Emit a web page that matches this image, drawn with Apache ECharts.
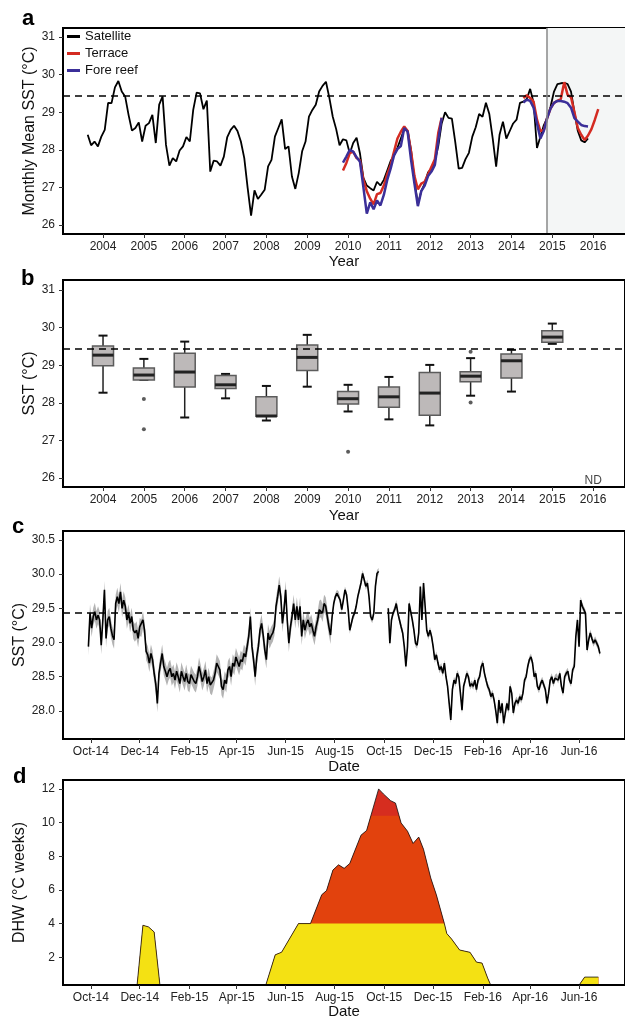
<!DOCTYPE html>
<html>
<head>
<meta charset="UTF-8">
<title>SST and DHW</title>
<script src="https://cdn.jsdelivr.net/npm/echarts@6/dist/echarts.min.js"></script>
<style>html,body{margin:0;padding:0;background:#fff}</style>
</head>
<body>
<div id="main" style="width:625px;height:1020px"></div>
<script>
// ---- panel a : monthly means (first value = Aug 2003) ----
var satStart = 2003 + 7 / 12;
var satellite = [28.40, 28.12, 28.22, 28.09, 28.35, 28.53, 29.25, 29.24, 29.66, 29.83, 29.55, 29.42,
    28.93, 28.51, 28.58, 28.73, 28.22, 28.64, 28.71, 28.93, 28.18, 29.20, 29.42, 28.13,
    27.58, 27.78, 27.69, 27.98, 28.09, 28.34, 28.22, 29.06, 29.52, 29.50, 29.08, 29.31,
    27.42, 27.71, 27.69, 27.58, 27.82, 28.34, 28.53, 28.64, 28.50, 28.22, 27.78, 26.98,
    26.25, 26.92, 26.69, 26.81, 26.94, 27.56, 27.73, 28.35, 28.58, 28.81, 28.02, 28.09,
    27.29, 26.96, 27.38, 27.96, 28.22, 28.88, 29.06, 29.20, 29.55, 29.70, 29.81, 29.38,
    28.88, 28.55, 28.12, 28.28, 28.25, 27.90, 28.18, 28.32, 27.90, 27.25, 27.05, 26.98,
    26.92, 27.15, 27.05, 27.20, 27.45, 27.70, 27.85, 28.05, 28.30, 28.55, 28.50, 28.00,
    27.20, 26.55, 26.90, 27.10, 27.40, 27.50, 27.70, 28.10, 28.70, 29.00, 28.85, 28.83,
    28.20, 27.50, 27.52, 27.75, 27.92, 28.35, 28.60, 28.95, 28.88, 29.25, 28.95, 28.30,
    27.55, 28.40, 28.75, 28.30, 28.50, 28.70, 28.80, 29.25, 29.28, 29.35, 29.62, 29.25,
    28.05, 28.35, 28.65, 28.85, 29.15, 29.55, 29.75, 29.77, 29.78, 29.75, 29.55, 29.00,
    28.50, 28.25, 28.20, 28.30];
// logger series start Nov 2009
var siteStart = 2009 + 10 / 12;
var terrace = [27.45, 27.65, 27.91, 27.95, 27.78, 27.72, 27.20, 26.90, 26.70, 26.55, 26.82, 26.85,
    27.05, 27.35, 27.60, 27.95, 28.30, 28.48, 28.62, 28.50, 27.95, 27.30, 26.95, 27.10,
    27.15, 27.35, 27.55, 27.75, 28.45, 28.85,
    null, null, null, null, null, null, null, null, null, null, null, null,
    null, null, null, null, null, null, null, null, null, null, null,
    29.38, 29.45, 29.38, 29.28, 28.80, 28.50, 28.52, 28.85, 29.10, 29.25, 29.30, 29.35,
    29.80, 29.46, 29.40, 29.00, 28.58, 28.40, 28.26, 28.38, 28.55, 28.80, 29.08];
var foreReef = [27.66, 27.82, 28.00, 27.95, 27.80, 27.68, 27.00, 26.30, 26.60, 26.42, 26.65, 26.52,
    26.80, 27.20, 27.50, 27.85, 28.02, 28.10, 28.58, 28.48, 27.73, 27.10, 26.50, 26.90,
    27.05, 27.30, 27.42, 27.60, 28.25, 28.85,
    null, null, null, null, null, null, null, null, null, null, null, null,
    null, null, null, null, null, null, null, null, null, null, null,
    29.26, 29.33, 29.30, 29.12, 28.70, 28.30, 28.50, 28.85, 29.10, 29.25, 29.30, 29.30,
    29.28, 29.24, 29.12, 28.84, 28.75, 28.66, 28.63, 28.62];
var bleachThreshold = 29.43;
var loggerStart = 2014.86;
var yearTicks = [2004, 2005, 2006, 2007, 2008, 2009, 2010, 2011, 2012, 2013, 2014, 2015, 2016];

// ---- panel b : yearly box plots ----
var boxYears  = [2004, 2005, 2006, 2007, 2008, 2009, 2010, 2011, 2012, 2013, 2014, 2015];
var boxMin    = [28.27, 28.61, 27.61, 28.12, 27.53, 28.43, 27.77, 27.56, 27.40, 28.19, 28.30, 29.57];
var boxQ1     = [28.99, 28.61, 28.42, 28.38, 27.64, 28.86, 27.97, 27.88, 27.67, 28.56, 28.66, 29.61];
var boxMedian = [29.27, 28.74, 28.82, 28.48, 27.65, 29.21, 28.11, 28.16, 28.26, 28.71, 29.12, 29.75];
var boxQ3     = [29.51, 28.93, 29.32, 28.73, 28.16, 29.54, 28.30, 28.42, 28.81, 28.83, 29.30, 29.92];
var boxMax    = [29.79, 29.17, 29.63, 28.77, 28.45, 29.81, 28.48, 28.69, 29.01, 29.19, 29.41, 30.11];
var outlierYears  = [2005, 2005, 2010, 2013, 2013];
var outlierValues = [28.10, 27.30, 26.70, 29.36, 28.01];
var noDataYear = 2016;

// ---- panel c : logger SST, every 2 days, days counted from 1 Oct 2014 ----
var dailyStartDay = -3;
var dailyStep = 2;
var dailySST = [
    28.94, 29.43, 29.21, 29.38, 29.45, 29.33, 29.40, 29.33, 28.96, 29.33,
    29.77, 29.06, 29.33, 29.38, 29.21, 29.10, 29.04, 29.57, 29.67, 29.57,
    29.74, 29.50, 29.62, 29.53, 29.33, 29.43, 29.28, 29.38, 29.18, 29.14,
    29.18, 29.06, 29.23, 29.21, 29.33, 29.18, 28.87, 28.82, 28.70, 28.84,
    28.75, 28.55, 28.40, 28.11, 28.55, 28.70, 28.84, 28.65, 28.58, 28.50,
    28.58, 28.62, 28.50, 28.55, 28.45, 28.58, 28.50, 28.40, 28.58, 28.50,
    28.43, 28.55, 28.43, 28.40, 28.53, 28.48, 28.43, 28.40, 28.50, 28.65,
    28.55, 28.43, 28.50, 28.60, 28.40, 28.50, 28.38, 28.36, 28.45, 28.55,
    28.70, 28.65, 28.60, 28.36, 28.31, 28.45, 28.40, 28.60, 28.65, 28.50,
    28.70, 28.65, 28.79, 28.72, 28.65, 28.75, 28.72, 28.84, 28.79, 28.94,
    29.09, 29.38, 28.94, 28.75, 28.50, 28.79, 28.94, 29.18, 29.28, 29.11,
    28.89, 28.75, 29.14, 29.04, 29.10, 29.14, 29.23, 29.53, 29.67, 29.84,
    29.67, 29.28, 29.48, 29.77, 29.33, 28.99, 29.23, 29.38, 29.57, 29.33,
    29.53,
    29.33, 29.53, 29.09, 29.33, 29.18, 29.28, 29.33, 29.23, 29.28, 29.18,
    29.09, 29.23, 29.33, 29.48, 29.50, 29.43, 29.57, 29.53, 29.38, 29.23,
    29.11, 29.38, 29.57, 29.67, 29.72, 29.70, 29.62, 29.48, 29.62, 29.77,
    29.70, 29.48, 29.18, 29.28, 29.38, 29.43, 29.53, 29.67, 29.77, 29.87,
    30.01, 29.92, 29.82, 29.87, 29.67, 29.38, 29.33, 29.43, 29.82, 30.01,
    30.04,
    null, null, null, null, null,
    29.50, 28.99, 29.33, 29.43, 29.48, 29.57, 29.43, 29.33, 29.23, 29.14,
    28.94, 28.65, 28.94, 29.57, 29.45, 29.33, 29.18, 28.99, 28.96, 29.14,
    29.82, 29.33, 29.87, 29.53, 29.18, 29.09, 29.18, 29.09, 28.94, 28.75,
    28.82, 28.70, 28.60, 28.65, 28.55, 28.70, 28.50, 28.36, 28.11, 27.87,
    28.31, 28.45, 28.40, 28.55, 28.50, 28.26, 28.01, 28.36, 28.45, 28.55,
    28.50, 28.36, 28.40, 28.36, 28.45, 28.31, 28.45, 28.50, 28.65, 28.70,
    28.55, 28.45, 28.36, 28.31, 28.21, 28.26, 28.16, 28.01, 27.82, 28.16,
    27.97, 28.11, 27.82, 27.97, 28.11, 28.01, 28.36, 28.26, 27.97, 28.11,
    28.16, 28.11, 28.21, 28.16, 28.26, 28.45, 28.50, 28.65, 28.75, 28.79,
    28.70, 28.50, 28.55, 28.36, 28.31, 28.40, 28.45, 28.38, 28.31, 28.11,
    28.26, 28.45, 28.50, 28.40, 28.48, 28.50, 28.45, 28.55, 28.36, 28.26,
    28.50, 28.55, 28.58, 28.45, 28.40, 28.60, 28.65, 29.09, 29.33, 28.94,
    29.62, 29.53, 29.48, 29.43, 28.89, 29.04, 29.14, 29.06, 28.99, 29.04,
    28.99, 28.94, 28.84];
// half width of the grey error band (first / second part of the record)
var bandHalfEarly = 0.13;
var bandHalfLate = 0.05;
var bandSwitchDay = 300;
var dateTicks = [0, 61, 123, 182, 243, 304, 366, 427, 489, 548, 609];
var dateLabels = ['Oct-14', 'Dec-14', 'Feb-15', 'Apr-15', 'Jun-15', 'Aug-15', 'Oct-15', 'Dec-15', 'Feb-16', 'Apr-16', 'Jun-16'];

// ---- panel d : degree heating weeks ----
var dhwDays = [-3, 57, 65, 72, 79, 87, 216, 230, 238, 259, 274, 283, 288, 294, 302, 309, 316, 323,
    337, 344, 359, 365, 374, 380, 387, 395, 402, 409, 415, 424, 431, 441, 444, 450, 460, 473,
    481, 488, 495, 502, 604, 616, 633];
var dhwValues = [0, 0, 3.9, 3.8, 3.5, 0, 0, 2.14, 2.3, 4.0, 4.0, 5.1, 5.71, 5.96, 7.18, 7.49, 7.28, 7.57,
    9.25, 9.53, 12.0, 11.7, 11.3, 11.16, 9.98, 9.49, 8.76, 9.14, 8.41, 6.71, 5.71, 4.0, 3.41, 3.08, 2.43, 2.29,
    1.71, 1.65, 0.76, 0, 0, 0.82, 0.82];
var dhwAlert1 = 4;
var dhwAlert2 = 10.4;

// ---------------------------------------------------------------
var FONT = 'Liberation Sans';
var DHW_AXIS_MIN = 0.35;
var myChart = echarts.init(document.getElementById('main'), null, {renderer: 'canvas'});

function monthly(start, list) {
    return list.map(function (v, i) { return [start + (i + 0.5) / 12, v]; });
}
function dayOf(i) { return dailyStartDay + i * dailyStep; }
function bandHalf(i) { return dayOf(i) < bandSwitchDay ? bandHalfEarly : bandHalfLate; }

var dailyData = dailySST.map(function (v, i) { return [dayOf(i), v]; });
// continuous pieces of the logger record (the band is drawn piece by piece)
var bandPieces = [];
(function () {
    var s = -1;
    for (var i = 0; i <= dailySST.length; i++) {
        var ok = i < dailySST.length && dailySST[i] != null;
        if (ok && s < 0) s = i;
        if (!ok && s >= 0) { bandPieces.push([s, i - 1]); s = -1; }
    }
})();
var bandData = bandPieces.map(function (p) { return [dayOf(p[0]), dailySST[p[0]]]; });

function renderBand(params, api) {
    var p = bandPieces[params.dataIndex];
    var pts = [], i;
    for (i = p[0]; i <= p[1]; i++) pts.push(api.coord([dayOf(i), dailySST[i] + bandHalf(i)]));
    for (i = p[1]; i >= p[0]; i--) pts.push(api.coord([dayOf(i), dailySST[i] - bandHalf(i)]));
    return {type: 'polygon', shape: {points: pts}, style: {fill: '#a0a0a0', opacity: 0.8}};
}

// DHW curve with the points where it crosses the colour levels added,
// so each colour band follows the same straight segments as the outline
function dhwCurve() {
    var cuts = [DHW_AXIS_MIN, dhwAlert1, dhwAlert2];
    var out = [[dhwDays[0], dhwValues[0]]];
    for (var i = 1; i < dhwDays.length; i++) {
        var x0 = dhwDays[i - 1], v0 = dhwValues[i - 1], x1 = dhwDays[i], v1 = dhwValues[i];
        var hits = [];
        cuts.forEach(function (c) {
            if ((v0 - c) * (v1 - c) < 0) hits.push(x0 + (c - v0) / (v1 - v0) * (x1 - x0));
        });
        hits.sort(function (a, b) { return a - b; });
        hits.forEach(function (x) { out.push([x, v0 + (x - x0) / (x1 - x0) * (v1 - v0)]); });
        out.push([x1, v1]);
    }
    return out;
}
var dhwLevels = [
    {top: Infinity, color: '#d62d1f'},
    {top: dhwAlert2, color: '#e2420d'},
    {top: dhwAlert1, color: '#f4e113'}
];
function renderDHW(params, api) {
    var curve = dhwCurve();
    var children = dhwLevels.map(function (lv) {
        var pts = curve.map(function (p) {
            return api.coord([p[0], Math.max(DHW_AXIS_MIN, Math.min(p[1], lv.top))]);
        });
        pts.push(api.coord([curve[curve.length - 1][0], DHW_AXIS_MIN]));
        pts.push(api.coord([curve[0][0], DHW_AXIS_MIN]));
        return {type: 'polygon', shape: {points: pts}, style: {fill: lv.color}};
    });
    children.push({
        type: 'polyline',
        shape: {points: curve.map(function (p) { return api.coord([p[0], Math.max(DHW_AXIS_MIN, p[1])]); })},
        style: {stroke: '#111', lineWidth: 0.8, fill: null}
    });
    return {type: 'group', children: children};
}

var boxData = boxYears.map(function (y, i) {
    return [y, boxMin[i], boxQ1[i], boxMedian[i], boxQ3[i], boxMax[i]];
});
var outlierData = outlierYears.map(function (y, i) { return [y, outlierValues[i]]; });

var thresholdLine = {
    silent: true, symbol: 'none', label: {show: false},
    lineStyle: {type: [7, 5], color: '#000', width: 1.5},
    data: [{yAxis: bleachThreshold}]
};

function xAxisYears(grid, nameGap) {
    return {
        type: 'value', gridIndex: grid, min: 2003.02, max: 2016.78, z: 10,
        name: 'Year', nameLocation: 'middle', nameGap: nameGap, nameMoveOverlap: false,
        nameTextStyle: {fontSize: 15, color: '#111'},
        axisLine: {onZero: false, lineStyle: {color: '#000', width: 2}},
        axisTick: {length: 4, lineStyle: {color: '#333'}, customValues: yearTicks},
        axisLabel: {fontSize: 12, color: '#222', margin: 7, customValues: yearTicks,
            formatter: function (v) { return String(v); }},
        splitLine: {show: false}
    };
}
function xAxisDates(grid, nameGap) {
    return {
        type: 'value', gridIndex: grid, min: -34.7, max: 666.3, z: 10,
        name: 'Date', nameLocation: 'middle', nameGap: nameGap, nameMoveOverlap: false,
        nameTextStyle: {fontSize: 15, color: '#111'},
        axisLine: {onZero: false, lineStyle: {color: '#000', width: 2}},
        axisTick: {length: 4, lineStyle: {color: '#333'}, customValues: dateTicks},
        axisLabel: {fontSize: 12, color: '#222', margin: 7, customValues: dateTicks,
            formatter: function (v) {
                var k = dateTicks.indexOf(Math.round(v));
                return k < 0 ? '' : dateLabels[k];
            }},
        splitLine: {show: false}
    };
}
function yAxisSST(grid, name, min, max, ticks, digits, nameGap) {
    return {
        type: 'value', gridIndex: grid, min: min, max: max, z: 10,
        name: name, nameLocation: 'middle', nameGap: nameGap, nameMoveOverlap: false,
        nameTextStyle: {fontSize: 16, color: '#111'},
        axisLine: {show: true, onZero: false, lineStyle: {color: '#000', width: 2}},
        axisTick: {show: true, length: 4, lineStyle: {color: '#333'}, customValues: ticks},
        axisLabel: {fontSize: 12, color: '#222', margin: 8, customValues: ticks,
            formatter: function (v) { return v.toFixed(digits); }},
        splitLine: {show: false}
    };
}

function renderBox(params, api) {
    var x = api.value(0);
    var lo = api.coord([x, api.value(1)]);
    var q1 = api.coord([x, api.value(2)]);
    var med = api.coord([x, api.value(3)]);
    var q3 = api.coord([x, api.value(4)]);
    var hi = api.coord([x, api.value(5)]);
    var half = 10.5, cap = 4.5;
    return {
        type: 'group',
        children: [
            {type: 'line', shape: {x1: hi[0], y1: hi[1], x2: q3[0], y2: q3[1]}, style: {stroke: '#222', lineWidth: 1.5}},
            {type: 'line', shape: {x1: lo[0], y1: lo[1], x2: q1[0], y2: q1[1]}, style: {stroke: '#222', lineWidth: 1.5}},
            {type: 'line', shape: {x1: hi[0] - cap, y1: hi[1], x2: hi[0] + cap, y2: hi[1]}, style: {stroke: '#111', lineWidth: 2}},
            {type: 'line', shape: {x1: lo[0] - cap, y1: lo[1], x2: lo[0] + cap, y2: lo[1]}, style: {stroke: '#111', lineWidth: 2}},
            {type: 'rect', shape: {x: q3[0] - half, y: q3[1], width: half * 2, height: q1[1] - q3[1]},
                style: {fill: '#bdb9b9', stroke: '#5c5c5c', lineWidth: 1.5}},
            {type: 'line', shape: {x1: med[0] - half, y1: med[1], x2: med[0] + half, y2: med[1]}, style: {stroke: '#222', lineWidth: 3}}
        ]
    };
}

var letterStyle = {fontSize: 22, fontWeight: 'bold', color: '#000', fontFamily: FONT};

var option = {
    animation: false,
    backgroundColor: '#fff',
    textStyle: {fontFamily: FONT},
    title: [
        {text: 'a', left: 22, top: 8, padding: 0, textStyle: letterStyle},
        {text: 'b', left: 21, top: 268, padding: 0, textStyle: letterStyle},
        {text: 'c', left: 12, top: 516, padding: 0, textStyle: letterStyle},
        {text: 'd', left: 13, top: 766, padding: 0, textStyle: letterStyle}
    ],
    legend: {
        left: 67, top: 30, padding: 0, orient: 'vertical', icon: 'rect',
        itemWidth: 13, itemHeight: 3, itemGap: 4,
        textStyle: {fontSize: 13, color: '#111'},
        data: ['Satellite', 'Terrace', 'Fore reef']
    },
    grid: [
        {left: 63, top: 28, right: -3, height: 206, show: true, borderColor: '#000', borderWidth: 2},
        {left: 63, top: 280, right: -3, height: 207, show: true, borderColor: '#000', borderWidth: 2},
        {left: 63, top: 531, right: -3, height: 208, show: true, borderColor: '#000', borderWidth: 2},
        {left: 63, top: 780, right: -3, height: 207, show: true, borderColor: '#000', borderWidth: 2}
    ],
    xAxis: [xAxisYears(0, 20), xAxisYears(1, 21), xAxisDates(2, 20), xAxisDates(3, 19)],
    yAxis: [
        yAxisSST(0, 'Monthly Mean SST (°C)', 25.76, 31.24, [26, 27, 28, 29, 30, 31], 0, 25),
        yAxisSST(1, 'SST (°C)', 25.76, 31.27, [26, 27, 28, 29, 30, 31], 0, 25),
        yAxisSST(2, 'SST (°C)', 27.59, 30.63, [28, 28.5, 29, 29.5, 30, 30.5], 1, 35),
        yAxisSST(3, 'DHW (°C weeks)', DHW_AXIS_MIN, 12.53, [2, 4, 6, 8, 10, 12], 0, 35)
    ],
    series: [
        {
            name: 'Satellite', type: 'line', xAxisIndex: 0, yAxisIndex: 0, z: 3,
            data: monthly(satStart, satellite), showSymbol: false, symbol: 'none',
            lineStyle: {color: '#000', width: 1.8}, itemStyle: {color: '#000'},
            markArea: {silent: true, itemStyle: {color: '#f4f6f6'},
                data: [[{xAxis: loggerStart}, {xAxis: 2016.78}]]},
            markLine: {
                silent: true, symbol: 'none', label: {show: false},
                lineStyle: {type: [7, 5], color: '#000', width: 1.5},
                data: [{yAxis: bleachThreshold},
                    {xAxis: loggerStart, lineStyle: {type: 'solid', color: '#8a8a8a', width: 1.5}}]
            }
        },
        {
            name: 'Terrace', type: 'line', xAxisIndex: 0, yAxisIndex: 0, z: 4,
            data: monthly(siteStart, terrace), showSymbol: false, symbol: 'none',
            lineStyle: {color: '#d42b22', width: 2.5}, itemStyle: {color: '#d42b22'}
        },
        {
            name: 'Fore reef', type: 'line', xAxisIndex: 0, yAxisIndex: 0, z: 4,
            data: monthly(siteStart, foreReef), showSymbol: false, symbol: 'none',
            lineStyle: {color: '#3b2f99', width: 2.5}, itemStyle: {color: '#3b2f99'}
        },
        {
            type: 'custom', xAxisIndex: 1, yAxisIndex: 1, z: 3,
            data: boxData, encode: {x: 0, y: [1, 2, 3, 4, 5]},
            renderItem: renderBox
        },
        {
            type: 'scatter', xAxisIndex: 1, yAxisIndex: 1, z: 3,
            data: outlierData, symbolSize: 4, itemStyle: {color: '#333'},
            markLine: thresholdLine
        },
        {
            type: 'scatter', xAxisIndex: 1, yAxisIndex: 1,
            data: [[noDataYear, 25.92]], symbolSize: 1, itemStyle: {color: 'rgba(0,0,0,0)'},
            label: {show: true, position: 'inside', formatter: 'ND', fontSize: 12, color: '#111'}
        },
        {
            type: 'custom', xAxisIndex: 2, yAxisIndex: 2, z: 2, clip: true,
            data: bandData, encode: {x: 0, y: 1},
            renderItem: renderBand
        },
        {
            type: 'line', xAxisIndex: 2, yAxisIndex: 2, z: 3,
            data: dailyData, showSymbol: false, symbol: 'none',
            lineStyle: {color: '#000', width: 1.6},
            markLine: thresholdLine
        },
        {
            type: 'custom', xAxisIndex: 3, yAxisIndex: 3, z: 3, clip: true,
            data: [[dhwDays[0], dhwValues[0]]], encode: {x: 0, y: 1},
            renderItem: renderDHW
        }
    ]
};
myChart.setOption(option);
</script>
</body>
</html>
